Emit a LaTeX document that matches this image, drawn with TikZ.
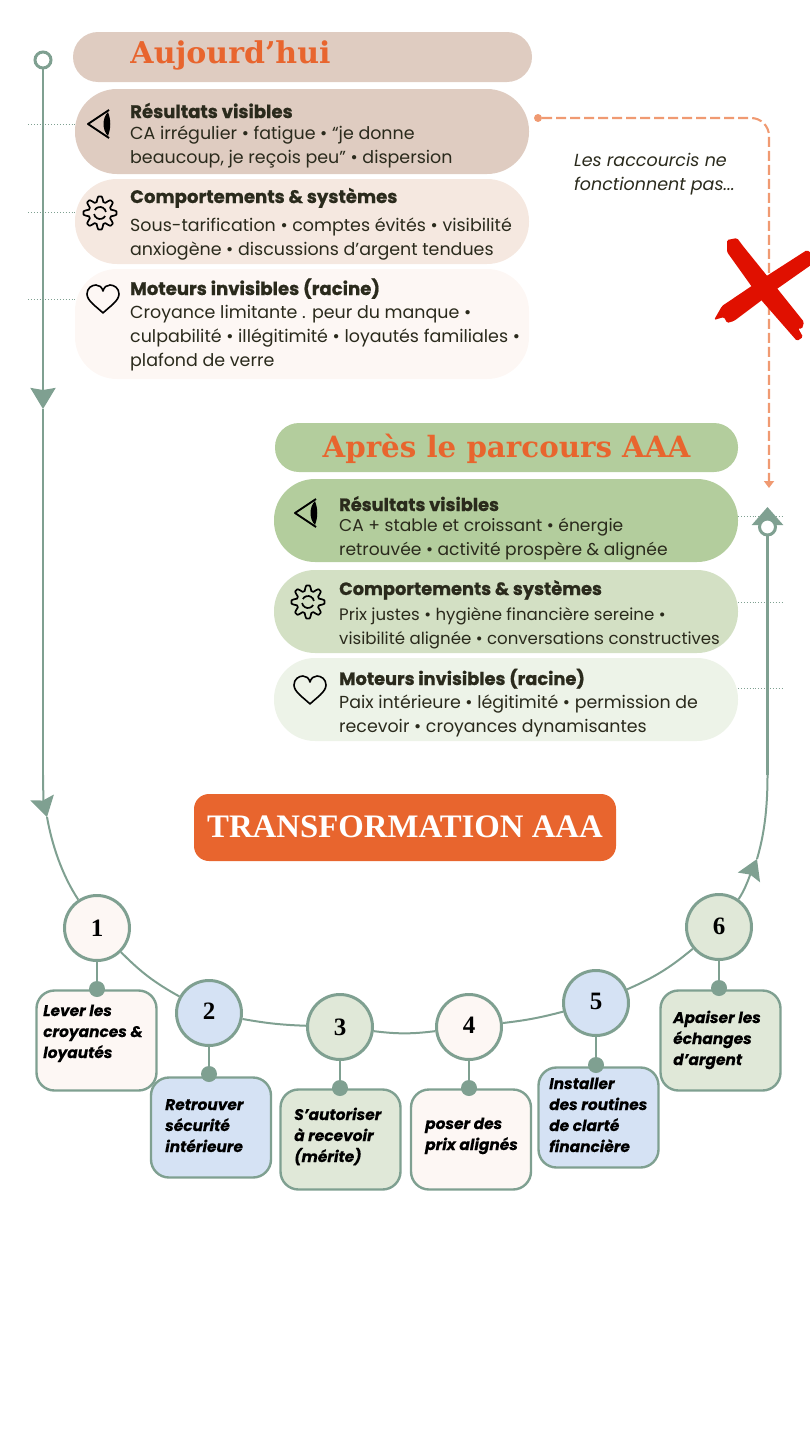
\documentclass[tikz,border=0pt]{standalone}
\usepackage{fontspec}
\usetikzlibrary{arrows.meta}
\newfontfamily\bodyfont{Poppins}
\newfontfamily\heavyfont{Poppins}[BoldFeatures={FakeBold=0.8}]
\newfontfamily\tagfont{Poppins}[BoldItalicFeatures={FakeBold=0.2}]
\newfontfamily\titlefont{DejaVu Serif}
\newfontfamily\bannerfont{Liberation Serif}
\definecolor{sage}{HTML}{7FA091}
\definecolor{rust}{HTML}{E8652E}
\definecolor{peach}{HTML}{F09A72}
\definecolor{inkdark}{HTML}{2A2A1C}
\definecolor{crossred}{HTML}{E01000}
\definecolor{taupe}{HTML}{DFCCC1}
\definecolor{blush}{HTML}{F5E8E0}
\definecolor{cream}{HTML}{FDF7F4}
\definecolor{leaf}{HTML}{B3CD9D}
\definecolor{moss}{HTML}{D3E0C4}
\definecolor{mist}{HTML}{EDF3E8}
\definecolor{skyfill}{HTML}{D5E2F4}
\definecolor{sagefill}{HTML}{E0E8D8}
\tikzset{
  aaa/pill/.style={inner sep=0pt, outer sep=0pt},
  aaa/title/.style={font=\titlefont\bfseries\fontsize{30}{30}\selectfont, text=rust, anchor=base, inner sep=0pt},
  aaa/head/.style={font=\heavyfont\bfseries\fontsize{18.1}{20}\selectfont, text=inkdark, anchor=base west, inner sep=0pt},
  aaa/headright/.style={aaa/head, font=\heavyfont\bfseries\fontsize{17.8}{20}\selectfont},
  aaa/body/.style={font=\bodyfont\fontsize{17.45}{24}\selectfont, text=inkdark, anchor=base west, inner sep=0pt, align=left},
  aaa/flow/.style={sage, line width=2.5pt},
  aaa/arc/.style={sage, line width=2pt},
  aaa/dots/.style={sage, line width=0.9pt, dotted},
  aaa/ring/.style={circle, draw=sage, fill=white, line width=3pt, minimum size=16pt, inner sep=0pt},
  aaa/step/.style={circle, draw=sage, line width=3pt, minimum size=65pt, inner sep=0pt, font=\bannerfont\bfseries\fontsize{25}{25}\selectfont},
  aaa/card/.style={draw=sage, line width=2.4pt, rounded corners=18pt, minimum width=120pt, minimum height=100pt, inner sep=0pt},
  aaa/pin/.style={circle, fill=sage, minimum size=16pt, inner sep=0pt},
  aaa/tag/.style={font=\tagfont\bfseries\itshape\fontsize{15.4}{21}\selectfont, anchor=base west, inner sep=0pt, align=left},
  eyeicon/.pic={
    \draw[line width=1.9pt, line join=round] (10,-14) -- (-11,0) -- (10,14);
    \fill (9,-12) .. controls (3,-6) and (3,6) .. (9,12) .. controls (12,4) and (12,-4) .. (9,-12);
  },
  gearicon/.pic={
    \draw[line width=1.7pt, line join=round] plot[domain=0:360, samples=161] ({(14+2.6*max(-1,min(1,1.4*cos(8*\x))))*cos(\x)},{(14+2.6*max(-1,min(1,1.4*cos(8*\x))))*sin(\x)}) -- cycle;
    \draw[line width=1.7pt] (30:6) arc (30:170:6) (210:6) arc (210:350:6);
  },
  hearticon/.pic={
    \draw[line width=1.6pt, line join=round] (0,14) .. controls (-6,8) and (-16,2) .. (-16,-5) .. controls (-16,-11) and (-11,-14) .. (-7,-14) .. controls (-4,-14) and (-1,-12) .. (0,-8) .. controls (1,-12) and (4,-14) .. (7,-14) .. controls (11,-14) and (16,-11) .. (16,-5) .. controls (16,2) and (6,8) .. (0,14) -- cycle;
  },
}

\begin{document}
\begin{tikzpicture}[x=1pt, y=-1pt]
  \useasboundingbox (0,0) rectangle (810,1440);

  \node[aaa/pill, fill=taupe, minimum width=459pt, minimum height=50pt, rounded corners=25pt] (todaybar) at (302.5,57) {};
  \node[aaa/pill, fill=taupe, minimum width=454pt, minimum height=85pt, rounded corners=42pt] (todayres) at (302,131.5) {};
  \node[aaa/pill, fill=blush, minimum width=454pt, minimum height=85pt, rounded corners=42pt] (todaybeh) at (302,221.5) {};
  \node[aaa/pill, fill=cream, minimum width=454pt, minimum height=110pt, rounded corners=42pt] (todayroot) at (302,324) {};
  \node[aaa/pill, fill=leaf, minimum width=463pt, minimum height=49pt, rounded corners=24pt] (afterbar) at (506.5,447.5) {};
  \node[aaa/pill, fill=leaf, minimum width=464pt, minimum height=83pt, rounded corners=41pt] (afterres) at (506,520.5) {};
  \node[aaa/pill, fill=moss, minimum width=464pt, minimum height=83pt, rounded corners=41pt] (afterbeh) at (506,611.5) {};
  \node[aaa/pill, fill=mist, minimum width=464pt, minimum height=83pt, rounded corners=41pt] (afterroot) at (506,699.5) {};

  \coordinate (dotA) at (28,124);
  \coordinate (dotB) at (28,212);
  \coordinate (dotC) at (28,299);
  \coordinate (dotD) at (783,516);
  \coordinate (dotE) at (783,602);
  \coordinate (dotF) at (783,688);
  \draw[aaa/dots] (dotA) -- (dotA -| todayres.west);
  \draw[aaa/dots] (dotB) -- (dotB -| todaybeh.west);
  \draw[aaa/dots] (dotC) -- (dotC -| todayroot.west);
  \draw[aaa/dots] (dotD -| afterres.east) -- (dotD);
  \draw[aaa/dots] (dotE -| afterbeh.east) -- (dotE);
  \draw[aaa/dots] (dotF -| afterroot.east) -- (dotF);

  \node[aaa/title] (todaytitle) at (230.5,63) {Aujourd’hui};
  \node[aaa/title, font=\titlefont\bfseries\fontsize{29.3}{30}\selectfont] (aftertitle) at (506.5,457) {Après le parcours AAA};

  \node[aaa/head] (headA) at (130,118) {Résultats visibles};
  \node[aaa/body] (textA) at (130,163) {CA irrégulier • fatigue • “je donne\\beaucoup, je reçois peu” • dispersion};
  \node[aaa/head] (headB) at (130,203) {Comportements \& systèmes};
  \node[aaa/body] (textB) at (130,255.5) {Sous-tarification • comptes évités • visibilité\\anxiogène • discussions d’argent tendues};
  \node[aaa/head] (headC) at (130,295) {Moteurs invisibles (racine)};
  \node[aaa/body] (textC) at (130,366) {Croyance limitante . peur du manque •\\culpabilité • illégitimité • loyautés familiales •\\plafond de verre};
  \node[aaa/headright] (headD) at (339,511) {Résultats visibles};
  \node[aaa/body, font=\bodyfont\fontsize{17.1}{24}\selectfont] (textD) at (339,555) {CA + stable et croissant • énergie\\retrouvée • activité prospère \& alignée};
  \node[aaa/headright] (headE) at (339,595) {Comportements \& systèmes};
  \node[aaa/body, font=\bodyfont\fontsize{16.6}{24}\selectfont] (textE) at (339,644) {Prix justes • hygiène financière sereine •\\visibilité alignée • conversations constructives};
  \node[aaa/headright] (headF) at (339,685) {Moteurs invisibles (racine)};
  \node[aaa/body, font=\bodyfont\fontsize{17.4}{24}\selectfont] (textF) at (339,732) {Paix intérieure • légitimité • permission de\\recevoir • croyances dynamisantes};

  \pic at (99,124) {eyeicon};
  \pic at (100,213) {gearicon};
  \pic at (103,299) {hearticon};
  \pic at (306,513) {eyeicon};
  \pic at (308,602) {gearicon};
  \pic at (310,690) {hearticon};

  \node[fill=rust, rounded corners=15pt, minimum width=422pt, minimum height=67pt, inner sep=0pt, text=white, font=\bannerfont\bfseries\fontsize{32.8}{33}\selectfont] (banner) at (405,827.5) {\raisebox{1pt}{TRANSFORMATION AAA}};

  \node[aaa/step, fill=cream] (stepA) at (97,928) {1};
  \node[aaa/step, fill=skyfill] (stepB) at (209,1013) {\raisebox{4pt}{2}};
  \node[aaa/step, fill=sagefill] (stepC) at (340,1027) {3};
  \node[aaa/step, fill=cream] (stepD) at (469,1027) {\raisebox{2.5pt}{4}};
  \node[aaa/step, fill=skyfill] (stepE) at (596,1003) {\raisebox{3pt}{5}};
  \node[aaa/step, fill=sagefill] (stepF) at (719,927) {\raisebox{2pt}{6}};
  \draw[aaa/arc] (stepA) to[bend right=8] (stepB);
  \draw[aaa/arc] (stepB) to[bend right=4] (stepC);
  \draw[aaa/arc] (stepC) to[bend right=7] (stepD);
  \draw[aaa/arc] (stepD) to[bend right=4] (stepE);
  \draw[aaa/arc] (stepE) to[bend right=8] (stepF);

  \node[aaa/card, fill=cream] (cardA) at (96.5,1040.5) {};
  \node[aaa/card, fill=skyfill] (cardB) at (211,1127.5) {};
  \node[aaa/card, fill=sagefill] (cardC) at (340.5,1139.5) {};
  \node[aaa/card, fill=cream] (cardD) at (471,1139.5) {};
  \node[aaa/card, fill=skyfill] (cardE) at (598.5,1117.5) {};
  \node[aaa/card, fill=sagefill] (cardF) at (720.5,1040.5) {};
  \node[aaa/pin] (pinA) at (97,989) {};
  \node[aaa/pin] (pinB) at (209,1074) {};
  \node[aaa/pin] (pinC) at (340,1088) {};
  \node[aaa/pin] (pinD) at (469,1088) {};
  \node[aaa/pin] (pinE) at (596,1065) {};
  \node[aaa/pin] (pinF) at (719,988) {};
  \foreach \s in {A,B,C,D,E,F} \draw[sage, line width=1.8pt] (step\s) -- (pin\s);

  \node[aaa/tag] (tagA) at (43,1058) {Lever les\\croyances \&\\loyautés};
  \node[aaa/tag] (tagB) at (165,1152) {Retrouver\\sécurité\\intérieure};
  \node[aaa/tag] (tagC) at (294,1162) {S’autoriser\\à recevoir\\(mérite)};
  \node[aaa/tag] (tagD) at (425,1150) {poser des\\prix alignés};
  \node[aaa/tag] (tagE) at (549,1152) {Installer\\des routines\\de clarté\\financière};
  \node[aaa/tag] (tagF) at (673,1065) {Apaiser les\\échanges\\d’argent};

  \coordinate (tipA) at (43,409);
  \coordinate (bendA) at (43,775);
  \coordinate (tipB) at (47,817);
  \coordinate (tipC) at (757,859);
  \coordinate (bendC) at (767.5,775);
  \coordinate (tipD) at (767.5,507);
  \draw[aaa/flow, -{Stealth[length=21pt, width=25pt, inset=2pt]}] (43,60) -- (tipA);
  \draw[aaa/flow] (tipA) -- (bendA);
  \draw[aaa/arc, -{Stealth[length=20pt, width=24pt, inset=3pt]}] (bendA) .. controls (43,790) and (44,805) .. (tipB);
  \draw[aaa/arc] (tipB) .. controls (52,845) and (62,875) .. (stepA);
  \draw[aaa/arc, -{Stealth[length=20pt, width=24pt, inset=3pt]}] (stepF) .. controls (745,890) and (750,875) .. (tipC);
  \draw[aaa/arc] (tipC) .. controls (764,835) and (767.5,810) .. (bendC);
  \draw[aaa/flow, -{Triangle[length=18pt, width=31pt]}] (bendC) -- (tipD);
  \node[aaa/ring] (startA) at (43,60) {};
  \node[aaa/ring] (startB) at (767.5,527) {};

  \node[circle, fill=peach, minimum size=8pt, inner sep=0pt] (shortA) at (538,118) {};
  \coordinate (shortB) at (769,488);
  \draw[peach, line width=2.1pt, dash pattern=on 10pt off 4pt, rounded corners=18pt, -{Triangle[length=7pt, width=10pt]}] (shortA) -- (shortA -| shortB) -- (shortB);
  \node[font=\bodyfont\itshape\fontsize{17.5}{24}\selectfont, text=inkdark, anchor=base west, inner sep=0pt, align=left] (shortnote) at (574,190) {Les raccourcis ne\\fonctionnent pas...};

  \fill[crossred, rounded corners=1.5pt] (727,240) -- (737,238) -- (743,246) -- (772,282) -- (804,322) -- (802,329) -- (798,328) -- (803,337) -- (797,341) -- (762,301) -- (727,252) -- cycle;
  \fill[crossred, rounded corners=1.5pt] (714,320) -- (722,306) -- (765,277) -- (807,250) -- (811,253) -- (811,265) -- (774,291) -- (734,321) -- (727,323) -- (724,317) -- cycle;
\end{tikzpicture}
\end{document}
